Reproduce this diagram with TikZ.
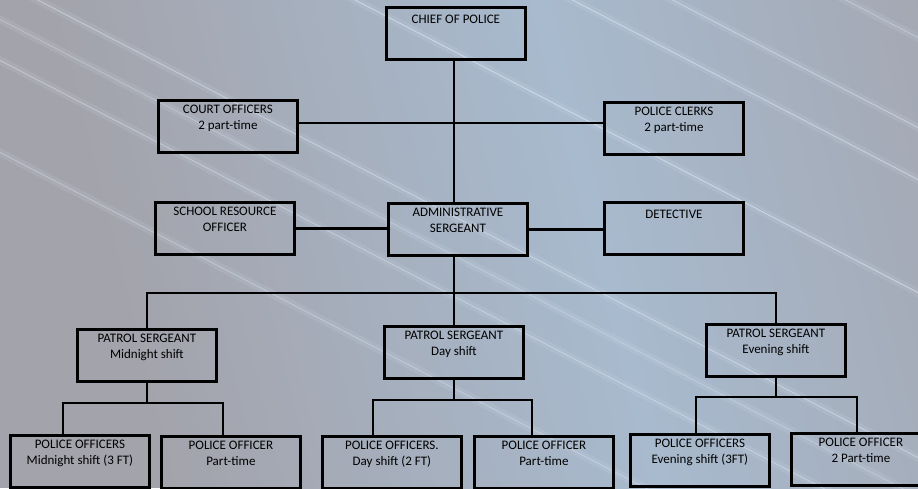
\documentclass[tikz,border=0pt]{standalone}
\usepackage{fontspec}
\setmainfont{Carlito}
\usetikzlibrary{calc}
\definecolor{bgA}{RGB}{163,163,171}
\definecolor{bgB}{RGB}{168,186,206}
\definecolor{streak}{RGB}{228,240,252}
\begin{document}
\begin{tikzpicture}[x=1pt,y=-1pt,
  box/.style={draw=black, line width=2.8pt, minimum width=139pt, minimum height=52pt, inner sep=0pt, anchor=north west},
  lbl/.style={anchor=north, align=center, inner sep=0pt, font=\fontsize{13}{16}\selectfont, execute at begin node={\strut}},
  conn/.style={line width=2.8pt, draw=black}]
\useasboundingbox (0,0) rectangle (918,488);
\clip (0,0) rectangle (918,488);
% background
\fill[bgA] (0,0) rectangle (918,488);
\shade[transform canvas={rotate around={14:(600,244)}}, left color=bgA, right color=bgA, middle color=bgB] (120,-400) rectangle (1080,900);
\foreach \c/\o in {-440/0.35,-350/0.45,-298/0.5,-185/0.55,-20/0.45,19/0.3,60/0.4,152/0.35}{
  \draw[streak, opacity=0.10, line width=8pt] (-20,{\c-10}) -- (940,{\c+489});
  \draw[streak, opacity=\o, line width=0.9pt] (-20,{\c-10}) -- (940,{\c+489});
}
% boxes
\node[box] (chief) at (385,6) {};
\node[box] (court) at (157,99) {};
\node[box] (clerks) at (603,101) {};
\node[box] (school) at (154,201) {};
\node[box] (admin) at (387,202) {};
\node[box] (detective) at (603,201) {};
\node[box] (mid) at (76,328) {};
\node[box] (day) at (383,325) {};
\node[box] (eve) at (705,323) {};
\node[box] (c1) at (9,434) {};
\node[box] (c2) at (160,435) {};
\node[box] (c3) at (321,435) {};
\node[box] (c4) at (473,435) {};
\node[box] (c5) at (629,433) {};
\node[box] (c6) at (790,432) {};
% labels
\node[lbl] (chief-t) at ($(chief.north)+(0,5.8)$) {CHIEF OF POLICE};
\node[lbl] (court-t) at ($(court.north)+(0,5.8)$) {COURT OFFICERS\\2 part-time};
\node[lbl] (clerks-t) at ($(clerks.north)+(0,5.8)$) {POLICE CLERKS\\2 part-time};
\node[lbl] (school-t) at ($(school.north)+(0,5.8)$) {SCHOOL RESOURCE\\OFFICER};
\node[lbl] (admin-t) at ($(admin.north)+(0,5.8)$) {ADMINISTRATIVE\\SERGEANT};
\node[lbl] (detective-t) at ($(detective.north)+(0,5.8)$) {DETECTIVE};
\node[lbl] (mid-t) at ($(mid.north)+(0,5.8)$) {PATROL SERGEANT\\Midnight shift};
\node[lbl] (day-t) at ($(day.north)+(0,5.8)$) {PATROL SERGEANT\\Day shift};
\node[lbl] (eve-t) at ($(eve.north)+(0,5.8)$) {PATROL SERGEANT\\Evening shift};
\node[lbl] (c1-t) at ($(c1.north)+(0,5.8)$) {POLICE OFFICERS\\Midnight shift (3 FT)};
\node[lbl] (c2-t) at ($(c2.north)+(0,5.8)$) {POLICE OFFICER\\Part-time};
\node[lbl] (c3-t) at ($(c3.north)+(0,5.8)$) {POLICE OFFICERS.\\Day shift (2 FT)};
\node[lbl] (c4-t) at ($(c4.north)+(0,5.8)$) {POLICE OFFICER\\Part-time};
\node[lbl] (c5-t) at ($(c5.north)+(0,5.8)$) {POLICE OFFICERS\\Evening shift (3FT)};
\node[lbl] (c6-t) at ($(c6.north)+(0,5.8)$) {POLICE OFFICER\\2 Part-time};
% connectors
\coordinate (tx) at (454,0);
\draw[conn] (chief.south -| tx) -- (admin.north -| tx);
\coordinate (r1) at (0,123);
\draw[conn] (court.east |- r1) -- (clerks.west |- r1);
\draw[conn] (school.east) -- (school.east -| admin.west);
\draw[conn] (admin.east) -- (admin.east -| detective.west);
\coordinate (bar) at (454,293);
\draw[conn] (admin.south -| bar) -- (bar);
\draw[conn] (mid.north) |- (bar) -| (eve.north);
\draw[conn] (bar) -- (bar |- day.north);
\coordinate (m1) at (63,403);
\coordinate (m2) at (223,403);
\draw[conn] (mid.south) -- (mid.south |- m1);
\draw[conn] (c1.north -| m1) -- (m1) -- (m2) -- (c2.north -| m2);
\coordinate (d1) at (373,400);
\coordinate (d2) at (532,400);
\draw[conn] (day.south) -- (day.south |- d1);
\draw[conn] (c3.north -| d1) -- (d1) -- (d2) -- (c4.north -| d2);
\coordinate (e1) at (696,397);
\coordinate (e2) at (857,397);
\draw[conn] (eve.south) -- (eve.south |- e1);
\draw[conn] (c5.north -| e1) -- (e1) -- (e2) -- (c6.north -| e2);
\end{tikzpicture}
\end{document}
